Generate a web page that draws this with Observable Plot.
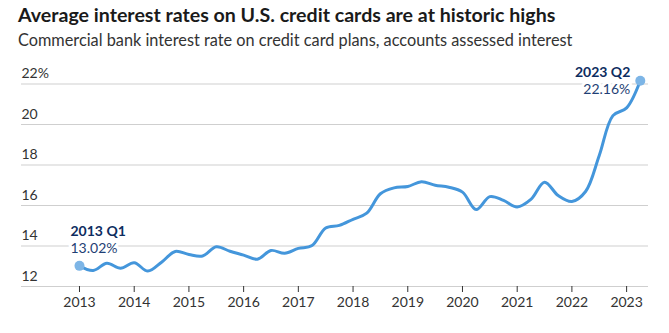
<!DOCTYPE html>
<html>
<head>
<meta charset="utf-8">
<script src="https://cdn.jsdelivr.net/npm/d3@7"></script>
<script src="https://cdn.jsdelivr.net/npm/@observablehq/plot@0.6"></script>
<style>
  html, body { margin: 0; padding: 0; background: #fff; }
  body { width: 669px; height: 333px; overflow: hidden; font-family: Lato, "Open Sans", sans-serif; }
  #head { height: 58px; position: relative; }
  #title { position: absolute; left: 18px; top: 3px; font-size: 19.6px; font-weight: 700; color: #1a1a1a; white-space: nowrap; }
  #subtitle { position: absolute; left: 18px; top: 30px; font-size: 16.3px; color: #333; white-space: nowrap; }
  #chart svg { display: block; }
</style>
</head>
<body>
<div id="head">
  <div id="title">Average interest rates on U.S. credit cards are at historic highs</div>
  <div id="subtitle">Commercial bank interest rate on credit card plans, accounts assessed interest</div>
</div>
<div id="chart"></div>
<script>
// Quarterly rates, 2013 Q1 .. 2023 Q2 (%)
const startYear = 2013;
const rates = [
  13.02, 12.79, 13.15, 12.90,
  13.17, 12.76, 13.20, 13.73,
  13.58, 13.51, 13.96, 13.74,
  13.55, 13.35, 13.78, 13.64,
  13.88, 14.02, 14.89, 15.02,
  15.32, 15.62, 16.58, 16.87,
  16.94, 17.17, 17.00, 16.90,
  16.66, 15.80, 16.44, 16.25,
  15.93, 16.30, 17.15, 16.49,
  16.20, 16.69, 18.47, 20.44,
  20.82, 22.16
];
const yearTicks = [2013, 2014, 2015, 2016, 2017, 2018, 2019, 2020, 2021, 2022, 2023];
const yTicks = [12, 14, 16, 18, 20, 22];
const yTickLabels = ["12", "14", "16", "18", "20", "22%"];

const data = rates.map((v, i) => ({
  t: startYear + i / 4,
  label: `${startYear + Math.floor(i / 4)} Q${(i % 4) + 1}`,
  v
}));
const first = data[0];
const last = data[data.length - 1];

const navy = "#0e2d5f";
const lineColor = "#4496db";

const chart = Plot.plot({
  width: 669,
  height: 275,
  marginLeft: 21,
  marginRight: 21,
  marginTop: 25.5,
  marginBottom: 47,
  style: { fontFamily: "Lato, 'Open Sans', sans-serif", fontSize: "14px", color: "#333", background: "#fff" },
  x: { domain: [2011.94, 2023.4], label: null },
  y: { domain: [12, 22], axis: null, label: null },
  marks: [
    Plot.ruleY(yTicks, { stroke: "#cfcfcf", strokeWidth: 1.2 }),
    Plot.axisX({ ticks: yearTicks, tickFormat: d => String(d), tickSize: 6, tickPadding: 5, fontSize: 14, stroke: "#333", fill: "#333", label: null }),
    Plot.text(yTicks, { y: d => d, text: (d, i) => yTickLabels[i], frameAnchor: "left", textAnchor: "start", dy: -10, fill: "#333", fontSize: 14 }),
    Plot.text([first], { x: "t", y: "v", text: d => d.label, textAnchor: "start", dx: -9, dy: -34, fontWeight: "bold", fill: navy, fontSize: 14 }),
    Plot.text([first], { x: "t", y: "v", text: d => d.v.toFixed(2) + "%", textAnchor: "start", dx: -9, dy: -17, fill: "#1f3f75", fontSize: 14, stroke: "white", strokeWidth: 6, paintOrder: "stroke" }),
    Plot.text([last], { x: "t", y: "v", text: d => d.label, textAnchor: "end", dx: -10, dy: -8, fontWeight: "bold", fill: navy, fontSize: 14, stroke: "white", strokeWidth: 6, paintOrder: "stroke" }),
    Plot.text([last], { x: "t", y: "v", text: d => d.v.toFixed(2) + "%", textAnchor: "end", dx: -10, dy: 9, fill: "#1f3f75", fontSize: 14, stroke: "white", strokeWidth: 6, paintOrder: "stroke" }),
    Plot.line(data, { x: "t", y: "v", stroke: lineColor, strokeWidth: 3, curve: "catmull-rom" }),
    Plot.dot([first, last], { x: "t", y: "v", r: 5, fill: "#7db5e6", stroke: "none" })
  ]
});
document.getElementById("chart").appendChild(chart);
</script>
</body>
</html>
